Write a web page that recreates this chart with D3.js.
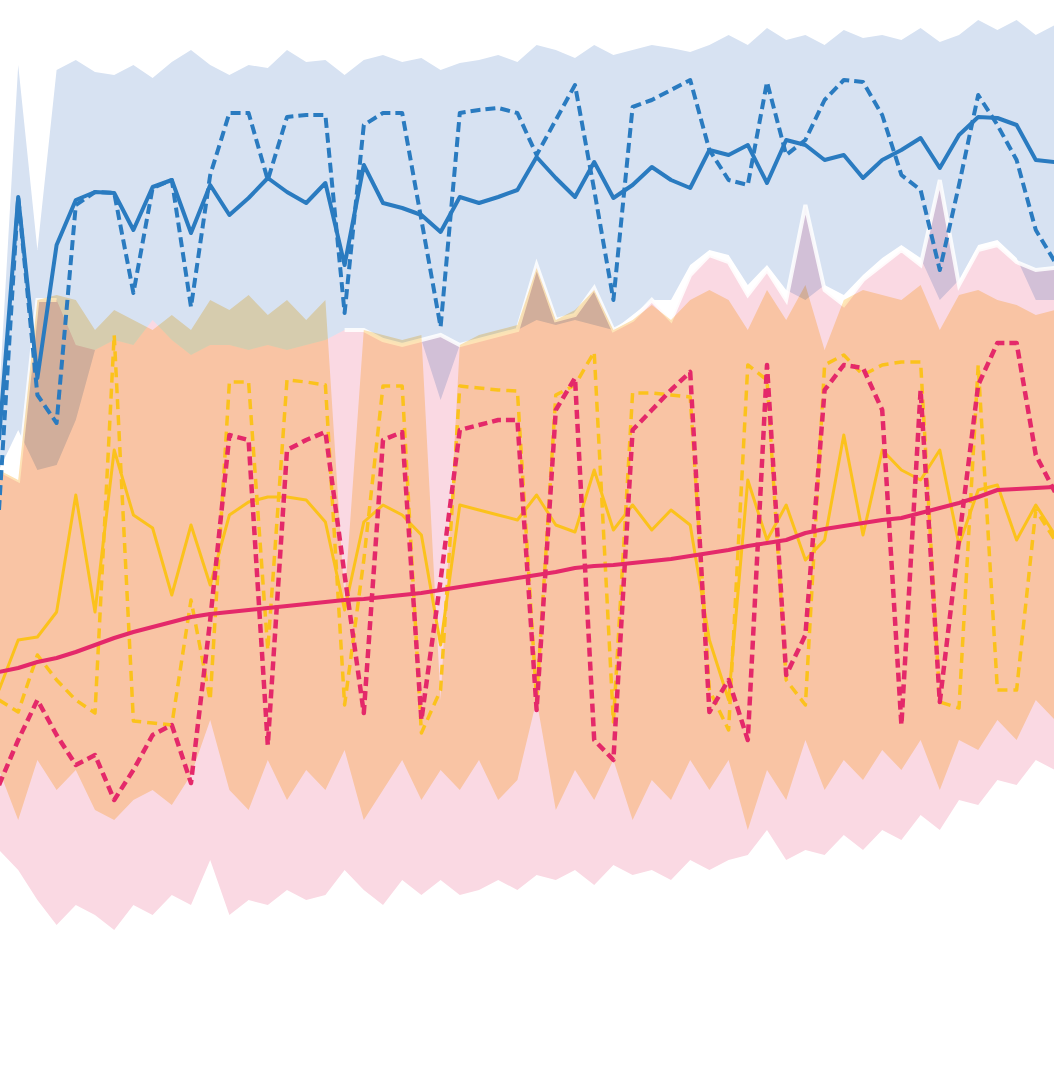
<!DOCTYPE html>
<html>
<head>
<meta charset="utf-8">
<script src="https://cdn.jsdelivr.net/npm/d3@7"></script>
<style>
  html, body { margin: 0; padding: 0; background: #fff; }
  svg { display: block; }
</style>
</head>
<body>
<svg width="1054" height="1086"></svg>
<script>
// readings, one value per time step (56 steps)
const blueSolid = [56.0, 80.3, 62.2, 75.5, 80.0, 80.8, 80.7, 77.0, 81.3, 82.0, 76.7, 81.5, 78.5, 80.2, 82.2, 80.8, 79.7, 81.7, 73.5, 83.5, 79.7, 79.2, 78.5, 76.8, 80.3, 79.7, 80.3, 81.0, 84.3, 82.2, 80.3, 83.8, 80.2, 81.5, 83.3, 82.0, 81.2, 85.0, 84.5, 85.5, 81.7, 86.0, 85.5, 84.0, 84.5, 82.2, 84.0, 85.0, 86.2, 83.2, 86.5, 88.3, 88.2, 87.5, 84.0, 83.8];
const blueDashed = [49.0, 80.3, 60.5, 57.7, 79.5, 80.8, 80.7, 70.7, 81.2, 82.0, 69.3, 82.5, 88.7, 88.7, 82.0, 88.3, 88.5, 88.5, 68.7, 87.5, 88.7, 88.7, 78.0, 67.3, 88.7, 89.0, 89.2, 88.7, 84.5, 88.0, 91.5, 81.0, 70.0, 89.3, 90.0, 91.0, 92.0, 85.0, 82.0, 81.5, 91.8, 84.5, 86.0, 90.0, 92.0, 91.8, 88.5, 82.5, 81.0, 73.0, 81.5, 90.5, 87.5, 84.0, 77.0, 73.8];
const blueHi = [60.0, 93.5, 75.0, 93.0, 94.0, 92.8, 92.5, 93.5, 92.2, 93.8, 95.0, 93.5, 92.5, 93.5, 93.2, 95.0, 93.8, 94.0, 92.5, 94.0, 94.5, 93.8, 94.2, 93.0, 93.7, 94.0, 94.5, 93.8, 95.5, 95.0, 94.2, 95.5, 94.5, 95.0, 95.5, 95.2, 94.8, 95.5, 96.5, 95.5, 97.2, 96.0, 96.5, 95.5, 97.0, 96.2, 96.5, 96.0, 97.2, 95.8, 96.5, 98.0, 97.0, 98.0, 96.5, 97.5];
const blueLo = [53.0, 57.0, 53.0, 53.5, 58.0, 65.0, 66.0, 65.5, 68.0, 66.0, 64.5, 65.5, 65.5, 65.0, 65.5, 65.0, 65.5, 66.0, 67.0, 67.0, 66.0, 65.5, 66.0, 60.0, 65.5, 66.0, 66.5, 67.0, 68.0, 67.5, 68.0, 67.5, 67.0, 68.5, 70.0, 70.0, 73.5, 75.0, 74.5, 71.5, 73.5, 71.0, 70.0, 71.5, 70.5, 72.5, 74.2, 75.5, 74.2, 70.0, 72.0, 75.5, 76.0, 74.2, 70.0, 70.0];

const redSolid = [32.8, 33.2, 33.8, 34.2, 34.8, 35.5, 36.2, 36.8, 37.3, 37.8, 38.3, 38.6, 38.8, 39.0, 39.2, 39.4, 39.6, 39.8, 40.0, 40.1, 40.3, 40.5, 40.7, 41.0, 41.3, 41.6, 41.9, 42.2, 42.5, 42.8, 43.2, 43.4, 43.5, 43.7, 43.9, 44.1, 44.4, 44.7, 45.0, 45.4, 45.7, 46.0, 46.7, 47.1, 47.4, 47.7, 48.0, 48.2, 48.7, 49.2, 49.7, 50.3, 51.0, 51.1, 51.2, 51.3];
const redDashed = [21.5, 26.0, 30.0, 26.5, 23.5, 24.5, 20.0, 23.0, 26.5, 27.5, 21.7, 38.0, 56.5, 56.0, 25.5, 55.0, 56.0, 56.8, 42.5, 28.7, 56.0, 56.8, 28.0, 42.0, 57.0, 57.5, 58.0, 58.0, 29.0, 59.0, 62.2, 26.0, 24.0, 57.0, 59.0, 61.0, 62.8, 28.8, 32.0, 26.0, 63.5, 32.5, 36.5, 61.0, 63.5, 63.2, 59.0, 27.5, 61.0, 29.8, 46.0, 61.5, 65.7, 65.7, 54.5, 50.8];
const redHi = [53.0, 52.0, 70.0, 70.0, 65.5, 65.0, 66.0, 65.5, 68.0, 66.0, 64.5, 65.5, 65.5, 65.0, 65.5, 65.0, 65.5, 66.0, 67.0, 67.0, 66.0, 65.5, 66.0, 66.5, 65.5, 66.0, 66.5, 67.0, 73.5, 68.0, 68.5, 71.2, 67.0, 68.0, 70.0, 68.0, 72.5, 74.5, 73.8, 70.5, 73.0, 70.0, 79.5, 71.0, 69.5, 72.0, 73.5, 75.0, 73.5, 82.0, 71.5, 75.0, 75.5, 73.8, 73.0, 73.2];
const redLo = [15.0, 13.0, 10.0, 7.5, 9.5, 8.5, 7.0, 9.5, 8.5, 10.5, 9.5, 14.0, 8.5, 10.0, 9.5, 11.0, 10.0, 10.5, 13.0, 11.0, 9.5, 12.0, 10.5, 12.0, 10.5, 11.0, 12.0, 11.0, 12.5, 12.0, 13.0, 11.5, 13.5, 12.5, 13.0, 12.0, 14.0, 13.0, 14.0, 14.5, 17.0, 14.0, 15.0, 14.5, 16.5, 15.0, 17.0, 16.0, 18.5, 17.0, 20.0, 19.5, 22.0, 21.5, 24.0, 23.0];

const yellowSolid = [31.0, 36.0, 36.3, 38.8, 50.5, 38.8, 55.0, 48.5, 47.2, 40.5, 47.5, 41.5, 48.5, 49.8, 50.3, 50.3, 50.0, 47.8, 39.0, 47.8, 49.5, 48.5, 46.5, 35.5, 49.5, 49.0, 48.5, 48.0, 50.5, 47.5, 46.8, 53.0, 47.0, 49.5, 47.0, 49.0, 47.5, 36.0, 30.0, 52.0, 46.0, 49.5, 44.0, 46.0, 56.5, 46.5, 55.0, 53.0, 52.0, 55.0, 45.5, 51.0, 51.5, 46.0, 49.5, 46.5];
const yellowDashed = [30.0, 28.8, 34.5, 32.0, 30.0, 28.7, 66.5, 27.9, 27.7, 27.5, 40.0, 30.0, 61.8, 61.8, 35.0, 62.0, 61.8, 61.5, 29.5, 44.0, 61.4, 61.4, 26.7, 31.0, 61.4, 61.2, 61.0, 60.9, 30.0, 60.5, 61.5, 64.8, 27.8, 60.7, 60.7, 60.5, 60.3, 31.0, 27.0, 63.5, 62.0, 32.0, 29.5, 63.5, 64.5, 62.5, 63.5, 63.8, 63.8, 29.8, 29.2, 63.5, 31.0, 31.0, 49.0, 46.0];
const yellowHi = [53.0, 52.0, 70.0, 70.5, 70.0, 67.0, 69.0, 68.0, 67.0, 68.5, 67.0, 70.0, 69.0, 70.5, 68.5, 70.0, 68.0, 70.0, 40.0, 67.0, 66.5, 66.0, 66.5, 30.0, 65.5, 66.5, 67.0, 67.5, 73.2, 68.0, 69.0, 71.0, 67.0, 68.0, 69.5, 68.0, 70.0, 71.0, 70.0, 67.0, 71.0, 68.0, 71.5, 65.0, 70.0, 71.0, 70.5, 70.0, 71.5, 67.0, 70.5, 71.0, 70.0, 69.5, 68.5, 69.0];
const yellowLo = [23.0, 18.0, 24.0, 21.0, 23.0, 19.0, 18.0, 20.0, 21.0, 19.5, 22.5, 28.0, 21.0, 19.0, 24.0, 20.0, 23.0, 21.0, 25.0, 18.0, 21.0, 24.0, 20.0, 23.0, 21.0, 24.0, 20.0, 22.0, 30.0, 19.0, 23.0, 20.0, 24.0, 18.0, 22.0, 20.0, 24.0, 21.0, 24.0, 17.0, 23.0, 20.0, 26.0, 21.0, 24.0, 22.0, 25.0, 23.0, 26.0, 21.0, 26.0, 25.0, 28.0, 26.0, 30.0, 28.0];

const svg = d3.select('svg');
const width = +svg.attr('width');
const height = +svg.attr('height');

const blue = '#2a7bc0';
const yellow = '#fbc21c';
const red = '#e4296a';

const xScale = d3.scaleLinear()
  .domain([0, blueSolid.length - 1])
  .range([-1, 1055]);

const yScale = d3.scaleLinear()
  .domain([0, 100])
  .range([1000, 0]);

svg.append('rect')
  .attr('width', width)
  .attr('height', height)
  .attr('fill', '#fff');

const band = (lo, hi) => d3.area()
  .x((d, i) => xScale(i))
  .y0((d, i) => yScale(lo[i]))
  .y1((d, i) => yScale(hi[i]))(lo);

const line = d3.line()
  .x((d, i) => xScale(i))
  .y(d => yScale(d));

const g = svg.append('g');

// bands, multiplied so the overlaps mix
g.append('path')
  .attr('d', band(blueLo, blueHi))
  .attr('fill', '#d7e2f2')
  .style('mix-blend-mode', 'multiply');

g.append('path')
  .attr('d', band(redLo, redHi))
  .attr('fill', '#fad9e3')
  .style('mix-blend-mode', 'multiply');

// pale rim on the red band where it sticks out above the yellow one
const rim = d3.line()
  .defined((d, i) => redHi[i] >= yellowHi[i] - 0.5)
  .x((d, i) => xScale(i))
  .y(d => yScale(d));

g.append('path')
  .attr('d', rim(redHi))
  .attr('fill', 'none')
  .attr('stroke', '#fff')
  .attr('stroke-width', 4)
  .attr('stroke-opacity', 0.85);

g.append('path')
  .attr('d', band(yellowLo, yellowHi))
  .attr('fill', '#fee7b8')
  .style('mix-blend-mode', 'multiply');

// lines
const drawLine = (data, color, w, dash) => {
  g.append('path')
    .attr('d', line(data))
    .attr('fill', 'none')
    .attr('stroke', color)
    .attr('stroke-width', w)
    .attr('stroke-linejoin', 'round')
    .attr('stroke-dasharray', dash);
};

drawLine(yellowSolid, yellow, 3, null);
drawLine(yellowDashed, yellow, 3.5, '10,6');
drawLine(redDashed, red, 4.5, '9,5');
drawLine(redSolid, red, 4, null);
drawLine(blueDashed, blue, 4, '10,5');
drawLine(blueSolid, blue, 4, null);
</script>
</body>
</html>
